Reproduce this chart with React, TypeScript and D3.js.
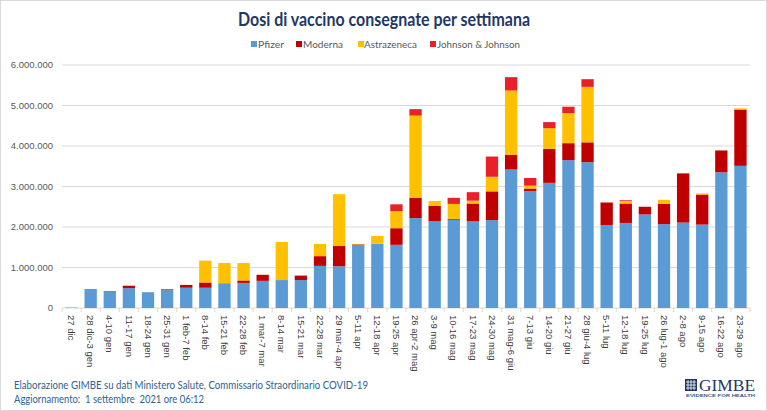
import React from "react";
import * as d3 from "d3";

const weeks = [
  "27 dic", "28 dic-3 gen", "4-10 gen", "11-17 gen", "18-24 gen", "25-31 gen",
  "1 feb-7 feb", "8-14 feb", "15-21 feb", "22-28 feb", "1 mar-7 mar", "8-14 mar",
  "15-21 mar", "22-28 mar", "29 mar-4 apr", "5-11 apr", "12-18 apr", "19-25 apr",
  "26 apr-2 mag", "3-9 mag", "10-16 mag", "17-23 mag", "24-30 mag", "31 mag-6 giu",
  "7-13 giu", "14-20 giu", "21-27 giu", "28 giu-4 lug", "5-11 lug", "12-18 lug",
  "19-25 lug", "26 lug-1 ago", "2-8 ago", "9-15 ago", "16-22 ago", "23-29 ago",
];

const pfizer = [
  10000, 470000, 410000, 490000, 390000, 440000, 500000, 500000, 600000, 620000,
  670000, 690000, 690000, 1040000, 1030000, 1550000, 1590000, 1560000, 2220000, 2140000,
  2180000, 2140000, 2170000, 3420000, 2890000, 3090000, 3650000, 3600000, 2050000, 2100000,
  2310000, 2070000, 2110000, 2060000, 3350000, 3510000,
];
const moderna = [
  0, 0, 10000, 60000, 0, 20000, 70000, 130000, 10000, 60000,
  150000, 0, 110000, 240000, 500000, 20000, 0, 410000, 500000, 380000,
  20000, 440000, 710000, 360000, 60000, 840000, 420000, 490000, 550000, 480000,
  190000, 500000, 1210000, 740000, 540000, 1390000,
];
const astrazeneca = [
  0, 0, 0, 0, 0, 0, 0, 540000, 500000, 430000,
  0, 940000, 0, 300000, 1280000, 10000, 190000, 420000, 2030000, 120000,
  370000, 70000, 360000, 1590000, 70000, 510000, 740000, 1370000, 0, 60000,
  0, 100000, 0, 30000, 0, 30000,
];
const johnson = [
  0, 0, 0, 0, 0, 0, 0, 0, 0, 0,
  0, 0, 0, 0, 0, 0, 0, 170000, 160000, 0,
  150000, 210000, 500000, 330000, 190000, 150000, 160000, 190000, 10000, 20000,
  0, 0, 10000, 0, 0, 0,
];
const yTicks = [0, 1000000, 2000000, 3000000, 4000000, 5000000, 6000000];

const seriesNames = ["Pfizer", "Moderna", "Astrazeneca", "Johnson & Johnson"];
const seriesColors = ["#5B9BD5", "#C00000", "#FFC000", "#E8202A"];

const W = 767;
const H = 411;
const plotLeft = 62;
const plotRight = 750;
const plotTop = 65;
const plotBottom = 308;

const itLocale = d3.formatLocale({
  decimal: ",",
  thousands: ".",
  grouping: [3],
  currency: ["", ""],
});
const fmt = itLocale.format(",");

export default function App() {
  const x = d3
    .scaleBand<string>()
    .domain(weeks)
    .range([plotLeft, plotRight])
    .paddingInner(0.355)
    .paddingOuter(0.1775);
  const y = d3.scaleLinear().domain([0, 6000000]).range([plotBottom, plotTop]);

  const rows = weeks.map((w, i) => ({
    week: w,
    Pfizer: pfizer[i],
    Moderna: moderna[i],
    Astrazeneca: astrazeneca[i],
    "Johnson & Johnson": johnson[i],
  }));
  const stacked = d3.stack<any>().keys(seriesNames)(rows);
  const step = x.step();

  const legendItems = [
    { sx: 251, tx: 258, tl: 26 },
    { sx: 296, tx: 303, tl: 40 },
    { sx: 358, tx: 364, tl: 53 },
    { sx: 430, tx: 437, tl: 83 },
  ];

  const sans = "'Liberation Sans', Arial, sans-serif";

  return (
    <svg
      width={W}
      height={H}
      style={{ position: "absolute", left: 0, top: 0, background: "#fff" }}
      fontFamily={sans}
    >
      <rect x={0.5} y={0.5} width={W - 1} height={H - 1} fill="#fff" stroke="#d9d9d9" />
      <text
        x={238}
        y={26}
        fontFamily="Lato, 'Open Sans', sans-serif"
        fontWeight={700}
        fontSize={19}
        fill="#1F3864"
        textLength={292}
        lengthAdjust="spacingAndGlyphs"
      >
        Dosi di vaccino consegnate per settimana
      </text>

      {seriesNames.map((n, i) => (
        <g key={n}>
          <rect x={legendItems[i].sx} y={41} width={6} height={6} fill={seriesColors[i]} />
          <text
            x={legendItems[i].tx}
            y={48}
            fontSize={10}
            fill="#595959"
            fontFamily="Lato, sans-serif"
            textLength={legendItems[i].tl}
            lengthAdjust="spacingAndGlyphs"
          >
            {n}
          </text>
        </g>
      ))}

      {yTicks.map((t) => (
        <g key={t}>
          <line
            x1={plotLeft}
            x2={plotRight}
            y1={y(t)}
            y2={y(t)}
            stroke="#d9d9d9"
            strokeWidth={1}
          />
          <text
            x={53}
            y={y(t)}
            dy="0.35em"
            textAnchor="end"
            fontSize={9.5}
            fill="#595959"
          >
            {fmt(t)}
          </text>
        </g>
      ))}

      {weeks.map((w, i) => (
        <line
          key={"tk" + i}
          x1={plotLeft + i * step}
          x2={plotLeft + i * step}
          y1={plotBottom}
          y2={plotBottom + 4}
          stroke="#d9d9d9"
        />
      ))}
      <line
        x1={plotRight}
        x2={plotRight}
        y1={plotBottom}
        y2={plotBottom + 4}
        stroke="#d9d9d9"
      />

      {stacked.map((s, si) => (
        <g key={s.key} fill={seriesColors[si]}>
          {s.map((d, i) => {
            const h = y(d[0]) - y(d[1]);
            if (h <= 0) return null;
            return (
              <rect
                key={i}
                x={x(weeks[i])}
                y={y(d[1])}
                width={x.bandwidth()}
                height={h}
              />
            );
          })}
        </g>
      ))}

      {weeks.map((w) => {
        const cx = (x(w) as number) + x.bandwidth() / 2;
        return (
          <text
            key={"lb" + w}
            transform={`translate(${cx},315) rotate(90)`}
            dy="0.35em"
            fontSize={9.5}
            fill="#404040"
          >
            {w}
          </text>
        );
      })}

      <text
        x={14}
        y={389}
        fontSize={11}
        fill="#2F6190"
        fontFamily="Lato, sans-serif"
        textLength={354}
        lengthAdjust="spacingAndGlyphs"
      >
        Elaborazione GIMBE su dati Ministero Salute, Commissario Straordinario COVID-19
      </text>
      <text
        x={14}
        y={403}
        fontSize={11}
        fill="#2F6190"
        fontFamily="Lato, sans-serif"
        textLength={190}
        lengthAdjust="spacingAndGlyphs"
        style={{ whiteSpace: "pre" }}
      >
        Aggiornamento:  1 settembre  2021 ore 06:12
      </text>

      <g>
        <rect x={685} y={379} width={12} height={12} fill="#1F3864" />
        {[0, 1, 2].map((k) => (
          <g key={k}>
            <line x1={685 + 3 + k * 3} x2={685 + 3 + k * 3} y1={380} y2={390} stroke="#fff" strokeWidth={0.8} />
            <line x1={686} x2={696} y1={379 + 3 + k * 3} y2={379 + 3 + k * 3} stroke="#fff" strokeWidth={0.8} />
          </g>
        ))}
        <text
          x={699}
          y={391}
          fontFamily="'Liberation Serif', 'DejaVu Serif', serif"
          fontSize={16}
          fill="#1F3864"
          textLength={56}
          lengthAdjust="spacingAndGlyphs"
        >
          GIMBE
        </text>
        <text
          x={686}
          y={397}
          fontSize={4}
          fill="#2F6190"
          fontWeight={700}
          textLength={69}
          lengthAdjust="spacingAndGlyphs"
        >
          EVIDENCE FOR HEALTH
        </text>
      </g>
    </svg>
  );
}
